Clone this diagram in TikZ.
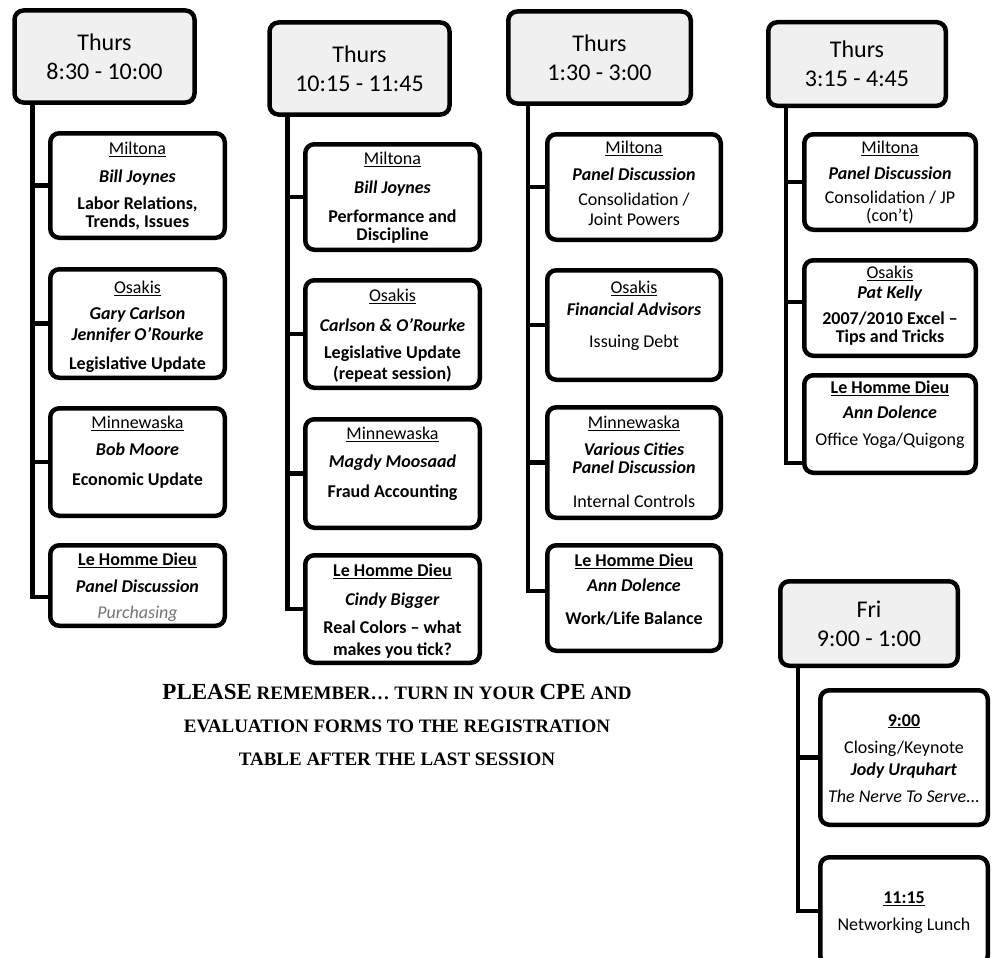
\documentclass[tikz,border=0pt]{standalone}
\usepackage{fontspec}
\setmainfont{Carlito}
\newfontfamily\notefont{Liberation Serif}
\usepackage{tikz}
\usetikzlibrary{positioning}
\definecolor{hdrgray}{RGB}{240,240,240}
\definecolor{greytext}{RGB}{115,115,115}
\newcommand{\room}[1]{\underline{#1}}

\begin{document}
\begin{tikzpicture}[
  x=1pt, y=-1pt,
  hdr/.style={draw, line width=4.5pt, rounded corners=9pt, fill=hdrgray, align=center,
              inner sep=0pt, minimum width=180pt, minimum height=92pt, font=\fontsize{24}{29}\selectfont},
  sess/.style={draw, line width=4.5pt, rounded corners=9pt, fill=white, inner sep=0pt,
               minimum width=174.5pt},
  txt/.style={align=center, inner sep=0pt, font=\fontsize{18}{18}\selectfont},
  conn/.style={line width=4.5pt},
  note/.style={align=center, inner sep=0pt, font=\notefont\bfseries\fontsize{19}{33}\selectfont},
]
\useasboundingbox (0,0) rectangle (993,958);
\clip (0,0) rectangle (993,958);

% ============================================================
% THURS 8:30 - 10:00
% ============================================================
\node[hdr] (h1) at (104.5,56.5) {Thurs\\8:30 - 10:00};
\node[sess, minimum height=104.5pt] (c1a) at (137.5,185.5) {};
\node[sess, minimum height=108.5pt] (c1b) at (137.5,323.5) {};
\node[sess, minimum height=107.5pt] (c1c) at (137.5,462) {};
\node[sess, minimum height=80.5pt]  (c1d) at (137.5,585.5) {};
\node[txt, below=11pt of c1a.north] (t1a)
  {\room{Miltona}\\[10pt]\textbf{\textit{Bill Joynes}}\\[9pt]\textbf{Labor Relations,}\\\textbf{Trends, Issues}};
\node[txt, below=14pt of c1b.north] (t1b)
  {\room{Osakis}\\[8pt]\textbf{\textit{Gary Carlson}}\\[3pt]\textbf{\textit{Jennifer O'Rourke}}\\[11pt]\textbf{Legislative Update}};
\node[txt, below=10pt of c1c.north] (t1c)
  {\room{Minnewaska}\\[9pt]\textbf{\textit{Bob Moore}}\\[12pt]\textbf{Economic Update}};
\node[txt, below=10pt of c1d.north] (t1d)
  {\room{\textbf{Le Homme Dieu}}\\[9pt]\textbf{\textit{Panel Discussion}}\\[8pt]{\color{greytext}\itshape Purchasing}};
\draw[conn] ([xshift=20pt]h1.south west) |- (c1a.west);
\draw[conn] ([xshift=20pt]h1.south west) |- (c1b.west);
\draw[conn] ([xshift=20pt]h1.south west) |- (c1c.west);
\draw[conn] ([xshift=20pt]h1.south west) |- ([yshift=-11.5pt]c1d.west);

% ============================================================
% THURS 10:15 - 11:45
% ============================================================
\node[hdr] (h2) at (359.5,68.5) {Thurs\\10:15 - 11:45};
\node[sess, minimum height=105.5pt] (c2a) at (392.5,197) {};
\node[sess, minimum height=107.5pt] (c2b) at (392.5,334) {};
\node[sess, minimum height=108.5pt] (c2c) at (392.5,473.5) {};
\node[sess, minimum height=107.5pt] (c2d) at (392.5,609) {};
\node[txt, below=10pt of c2a.north] (t2a)
  {\room{Miltona}\\[11pt]\textbf{\textit{Bill Joynes}}\\[11pt]\textbf{Performance and}\\\textbf{Discipline}};
\node[txt, below=11pt of c2b.north] (t2b)
  {\room{Osakis}\\[12pt]\textbf{\textit{Carlson \& O'Rourke}}\\[9pt]\textbf{Legislative Update}\\[3pt]\textbf{(repeat session)}};
\node[txt, below=10pt of c2c.north] (t2c)
  {\room{Minnewaska}\\[10pt]\textbf{\textit{Magdy Moosaad}}\\[12pt]\textbf{Fraud Accounting}};
\node[txt, below=11pt of c2d.north] (t2d)
  {\room{\textbf{Le Homme Dieu}}\\[11pt]\textbf{\textit{Cindy Bigger}}\\[10pt]\textbf{Real Colors -- what}\\[4pt]\textbf{makes you tick?}};
\draw[conn] ([xshift=20pt]h2.south west) |- (c2a.west);
\draw[conn] ([xshift=20pt]h2.south west) |- (c2b.west);
\draw[conn] ([xshift=20pt]h2.south west) |- (c2c.west);
\draw[conn] ([xshift=20pt]h2.south west) |- (c2d.west);

% ============================================================
% THURS 1:30 - 3:00
% ============================================================
\node[hdr, minimum width=182.5pt] (h3) at (599.5,57.5) {Thurs\\1:30 - 3:00};
\node[sess, minimum width=173.5pt, minimum height=105.5pt] (c3a) at (634,187) {};
\node[sess, minimum width=173.5pt, minimum height=109.5pt] (c3b) at (634,325) {};
\node[sess, minimum width=173.5pt, minimum height=110.5pt] (c3c) at (634,462.5) {};
\node[sess, minimum width=173.5pt, minimum height=105.5pt] (c3d) at (634,598) {};
\node[txt, below=9pt of c3a.north] (t3a)
  {\room{Miltona}\\[9pt]\textbf{\textit{Panel Discussion}}\\[7pt]Consolidation /\\[2pt]Joint Powers};
\node[txt, below=13pt of c3b.north] (t3b)
  {\room{Osakis}\\[4pt]\textbf{\textit{Financial Advisors}}\\[14pt]Issuing Debt};
\node[txt, below=11pt of c3c.north] (t3c)
  {\room{Minnewaska}\\[9pt]\textbf{\textit{Various Cities}}\\\textbf{\textit{Panel Discussion}}\\[16pt]Internal Controls};
\node[txt, below=11pt of c3d.north] (t3d)
  {\room{\textbf{Le Homme Dieu}}\\[7pt]\textbf{\textit{Ann Dolence}}\\[15pt]\textbf{Work/Life Balance}};
\draw[conn] ([xshift=22pt]h3.south west) |- (c3a.west);
\draw[conn] ([xshift=22pt]h3.south west) |- (c3b.west);
\draw[conn] ([xshift=22pt]h3.south west) |- (c3c.west);
\draw[conn] ([xshift=22pt]h3.south west) |- ([yshift=7pt]c3d.west);

% ============================================================
% THURS 3:15 - 4:45
% ============================================================
\node[hdr, minimum width=177.5pt, minimum height=83.5pt] (h4) at (857,64) {Thurs\\3:15 - 4:45};
\node[sess, minimum width=171.5pt, minimum height=95.5pt] (c4a) at (890,182) {};
\node[sess, minimum width=171.5pt, minimum height=95.5pt] (c4b) at (890,308) {};
\node[sess, minimum width=171.5pt, minimum height=97.5pt] (c4c) at (890,424) {};
\node[txt, below=9pt of c4a.north] (t4a)
  {\room{Miltona}\\[8pt]\textbf{\textit{Panel Discussion}}\\[6pt]Consolidation / JP\\(con't)};
\node[txt, below=8pt of c4b.north] (t4b)
  {\room{Osakis}\\[2pt]\textbf{\textit{Pat Kelly}}\\[8pt]\textbf{2007/2010 Excel --}\\\textbf{Tips and Tricks}};
\node[txt, below=8pt of c4c.north] (t4c)
  {\room{\textbf{Le Homme Dieu}}\\[7pt]\textbf{\textit{Ann Dolence}}\\[9pt]Office Yoga/Quigong};
\draw[conn] ([xshift=20pt]h4.south west) |- (c4a.west);
\draw[conn] ([xshift=20pt]h4.south west) |- ([yshift=6pt]c4b.west);
\draw[conn] ([xshift=20pt]h4.south west) |- ([yshift=-39pt]c4c.west);

% ============================================================
% FRI 9:00 - 1:00
% ============================================================
\node[hdr, minimum width=177.5pt, minimum height=84.5pt] (h5) at (869,623.5) {Fri\\9:00 - 1:00};
\node[sess, minimum width=167.5pt, minimum height=134.5pt] (c5a) at (904,757.5) {};
\node[sess, minimum width=167.5pt, minimum height=107.5pt] (c5b) at (904,911) {};
\node[txt, below=26pt of c5a.north] (t5a)
  {\room{\textbf{9:00}}\\[9pt]Closing/Keynote\\[4pt]\textbf{\textit{Jody Urquhart}}\\[9pt]\textit{The Nerve To Serve...}};
\node[txt, below=37pt of c5b.north] (t5b)
  {\room{\textbf{11:15}}\\[9pt]Networking Lunch};
\draw[conn] ([xshift=20pt]h5.south west) |- (c5a.west);
\draw[conn] ([xshift=20pt]h5.south west) |- (c5b.west);

% reminder
\node[note] (remind) at (397,725)
  {{\fontsize{23}{33}\selectfont PLEASE} REMEMBER\ldots{} TURN IN YOUR {\fontsize{23}{33}\selectfont CPE} AND\\
   EVALUATION FORMS TO THE REGISTRATION\\
   TABLE AFTER THE LAST SESSION};

\end{tikzpicture}
\end{document}
